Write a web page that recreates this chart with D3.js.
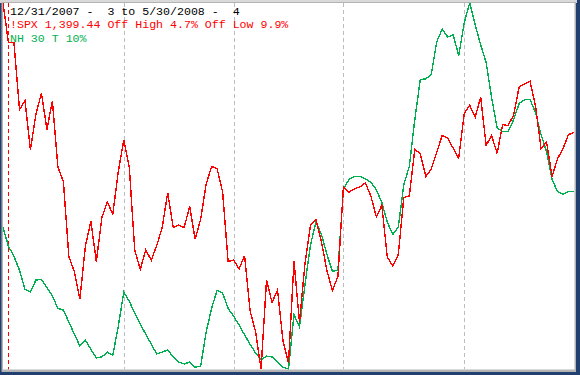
<!DOCTYPE html>
<html>
<head>
<meta charset="utf-8">
<script src="https://cdn.jsdelivr.net/npm/d3@7/dist/d3.min.js"></script>
<style>
    html, body { margin: 0; padding: 0; background: #fff; }
    svg { display: block; }
    .label { font-family: "Liberation Mono", "Courier New", monospace; font-size: 11.6px; white-space: pre; }
</style>
</head>
<body>
<svg id="chart" width="580" height="375"></svg>
<script>
// trading days, 12/31/2007 .. 5/30/2008
var dates = [
    '2007-12-31',
    '2008-01-02', '2008-01-03', '2008-01-04', '2008-01-07', '2008-01-08', '2008-01-09', '2008-01-10', '2008-01-11',
    '2008-01-14', '2008-01-15', '2008-01-16', '2008-01-17', '2008-01-18', '2008-01-22', '2008-01-23', '2008-01-24',
    '2008-01-25', '2008-01-28', '2008-01-29', '2008-01-30', '2008-01-31',
    '2008-02-01', '2008-02-04', '2008-02-05', '2008-02-06', '2008-02-07', '2008-02-08', '2008-02-11', '2008-02-12',
    '2008-02-13', '2008-02-14', '2008-02-15', '2008-02-19', '2008-02-20', '2008-02-21', '2008-02-22', '2008-02-25',
    '2008-02-26', '2008-02-27', '2008-02-28', '2008-02-29',
    '2008-03-03', '2008-03-04', '2008-03-05', '2008-03-06', '2008-03-07', '2008-03-10', '2008-03-11', '2008-03-12',
    '2008-03-13', '2008-03-14', '2008-03-17', '2008-03-18', '2008-03-19', '2008-03-20', '2008-03-24', '2008-03-25',
    '2008-03-26', '2008-03-27', '2008-03-28', '2008-03-31',
    '2008-04-01', '2008-04-02', '2008-04-03', '2008-04-04', '2008-04-07', '2008-04-08', '2008-04-09', '2008-04-10',
    '2008-04-11', '2008-04-14', '2008-04-15', '2008-04-16', '2008-04-17', '2008-04-18', '2008-04-21', '2008-04-22',
    '2008-04-23', '2008-04-24', '2008-04-25', '2008-04-28', '2008-04-29', '2008-04-30',
    '2008-05-01', '2008-05-02', '2008-05-05', '2008-05-06', '2008-05-07', '2008-05-08', '2008-05-09', '2008-05-12',
    '2008-05-13', '2008-05-14', '2008-05-15', '2008-05-16', '2008-05-19', '2008-05-20', '2008-05-21', '2008-05-22',
    '2008-05-23', '2008-05-27', '2008-05-28', '2008-05-29', '2008-05-30'
];

// !SPX closes
var spx = [
    1468.36,
    1447.16, 1447.16, 1411.63, 1416.18, 1390.19, 1409.13, 1420.33, 1401.02, 1416.25, 1380.95, 1373.20,
    1333.25, 1325.19, 1310.50, 1338.60, 1352.07, 1330.61, 1353.96, 1362.30, 1355.81, 1378.55,
    1395.42, 1380.82, 1336.64, 1326.45, 1336.91, 1331.29, 1339.13, 1348.86, 1367.21, 1348.86,
    1349.99, 1348.78, 1360.03, 1342.53, 1353.11, 1371.80, 1381.29, 1380.02, 1367.68, 1330.63,
    1331.34, 1326.75, 1333.70, 1304.34, 1293.37, 1273.37, 1320.65, 1308.77, 1315.48, 1288.14,
    1276.60, 1330.74, 1298.42, 1329.51, 1349.88, 1352.99, 1341.13, 1325.76, 1315.22, 1322.70,
    1370.18, 1367.53, 1369.31, 1370.40, 1372.54, 1365.54, 1354.49, 1360.55, 1332.83, 1328.32, 1334.43,
    1364.71, 1365.56, 1390.33, 1388.17, 1375.94, 1379.93, 1388.82, 1397.84, 1396.37, 1390.94, 1385.59,
    1409.34, 1413.90, 1407.49, 1418.26, 1392.57, 1397.68, 1388.28, 1403.58, 1403.04, 1408.66, 1423.57,
    1425.35, 1426.63, 1413.40, 1390.71, 1394.35, 1375.93, 1385.35, 1390.84, 1398.26, 1399.44
];

// NH 30 T 10% (0..100 of its own range)
var nh = [
    38.7,
    33.5, 30.8, 27.0, 21.8, 21.0, 24.3, 24.5, 22.3, 19.9, 16.6, 16.1,
    12.8, 9.5, 6.3, 7.9, 5.4, 3.0, 3.3, 4.6, 3.8, 11.7,
    21.0, 18.5, 15.3, 12.3, 9.5, 6.8, 4.1, 4.6, 5.2, 3.3,
    1.9, 1.4, 1.9, 0.5, 0.8, 10.1, 16.6, 21.5, 20.7, 16.6,
    14.4, 12.0, 9.3, 6.8, 4.4, 2.5, 3.5, 3.3, 1.9, 0.5,
    0.0, 14.8, 11.5, 23.0, 33.9, 40.1, 36.8, 31.3, 26.7, 27.0,
    49.0, 51.8, 52.6, 52.6, 52.0, 51.0, 49.0, 45.5, 40.1, 36.8, 38.7,
    50.4, 55.3, 68.1, 79.0, 79.3, 80.4, 89.4, 92.9, 90.7, 91.3, 85.6,
    94.6, 100.0, 94.0, 88.6, 83.7, 74.1, 65.9, 64.9, 64.9, 68.1, 72.5,
    73.6, 73.6, 70.0, 64.0, 59.4, 51.8, 48.5, 47.7, 48.5, 48.5
];

var startDate   = '2008-01-02';
var monthStarts = ['2008-02-01', '2008-03-03', '2008-04-01', '2008-05-01'];

var titleLines = [
    { text: '12/31/2007 -  3 to 5/30/2008 -  4',       color: '#000000' },
    { text: '!SPX 1,399.44 Off High 4.7% Off Low 9.9%', color: '#ff0000' },
    { text: 'NH 30 T 10%',                              color: '#00b050' }
];

var layout = {
    width: 580, height: 375,
    plot: { left: 3, top: 3, right: 574.5, bottom: 369.5 },
    text: { x: 10, y: 15, lineHeight: 13.4 }
};

var svg = d3.select('#chart');

// window frame
svg.append('rect')
    .attr('width', layout.width)
    .attr('height', layout.height)
    .attr('fill', '#22406f')
;
svg.append('rect')
    .attr('width', 577)
    .attr('height', 3)
    .attr('fill', '#d9d9d9')
;
svg.append('rect')
    .attr('x', 1.5).attr('y', 2)
    .attr('width', layout.plot.right + 1.5 - 1.5)
    .attr('height', layout.plot.bottom + 2.5 - 2)
    .attr('fill', '#b4b4b4')
;
svg.append('rect')
    .attr('x', layout.plot.left).attr('y', layout.plot.top)
    .attr('width', layout.plot.right - layout.plot.left)
    .attr('height', layout.plot.bottom - layout.plot.top)
    .attr('fill', '#ffffff')
;

svg.append('clipPath').attr('id', 'plot-clip')
    .append('rect')
    .attr('x', layout.plot.left).attr('y', layout.plot.top)
    .attr('width', layout.plot.right - layout.plot.left)
    .attr('height', layout.plot.bottom - layout.plot.top)
;

var x = d3.scalePoint()
    .domain(dates)
    .range([3, 574])
;
var ySpx = d3.scaleLinear()
    .domain([d3.min(spx), d3.max(spx)])
    .range([369, 3])
;
var yNh = d3.scaleLinear()
    .domain([0, 100])
    .range([369, 3])
;

var plot = svg.append('g').attr('clip-path', 'url(#plot-clip)');

// month gridlines
plot.selectAll('.grid')
    .data(monthStarts)
    .enter().append('line')
    .attr('class', 'grid')
    .attr('x1', d => Math.round(x(d)) + 0.5)
    .attr('x2', d => Math.round(x(d)) + 0.5)
    .attr('y1', layout.plot.top)
    .attr('y2', layout.plot.bottom)
    .attr('stroke', '#bdbdbd')
    .attr('stroke-width', 1)
    .attr('stroke-dasharray', '4,3')
;

plot.append('line')
    .attr('x1', Math.round(x(startDate)) + 0.5)
    .attr('x2', Math.round(x(startDate)) + 0.5)
    .attr('y1', layout.plot.top)
    .attr('y2', layout.plot.bottom)
    .attr('stroke', '#ff0000')
    .attr('stroke-width', 1)
    .attr('stroke-dasharray', '4,3')
;

var lineOf = function (scale) {
    return d3.line()
        .x((d, i) => x(dates[i]))
        .y(d => scale(d))
    ;
};

plot.append('path')
    .datum(nh)
    .attr('d', lineOf(yNh))
    .attr('fill', 'none')
    .attr('stroke', '#00b050')
    .attr('stroke-width', 1.4)
    .attr('shape-rendering', 'crispEdges')
;

plot.append('path')
    .datum(spx)
    .attr('d', lineOf(ySpx))
    .attr('fill', 'none')
    .attr('stroke', '#ff0000')
    .attr('stroke-width', 1.4)
    .attr('shape-rendering', 'crispEdges')
;

svg.selectAll('.label')
    .data(titleLines)
    .enter().append('text')
    .attr('class', 'label')
    .attr('x', layout.text.x)
    .attr('y', (d, i) => layout.text.y + i * layout.text.lineHeight)
    .attr('fill', d => d.color)
    .text(d => d.text)
;
</script>
</body>
</html>
